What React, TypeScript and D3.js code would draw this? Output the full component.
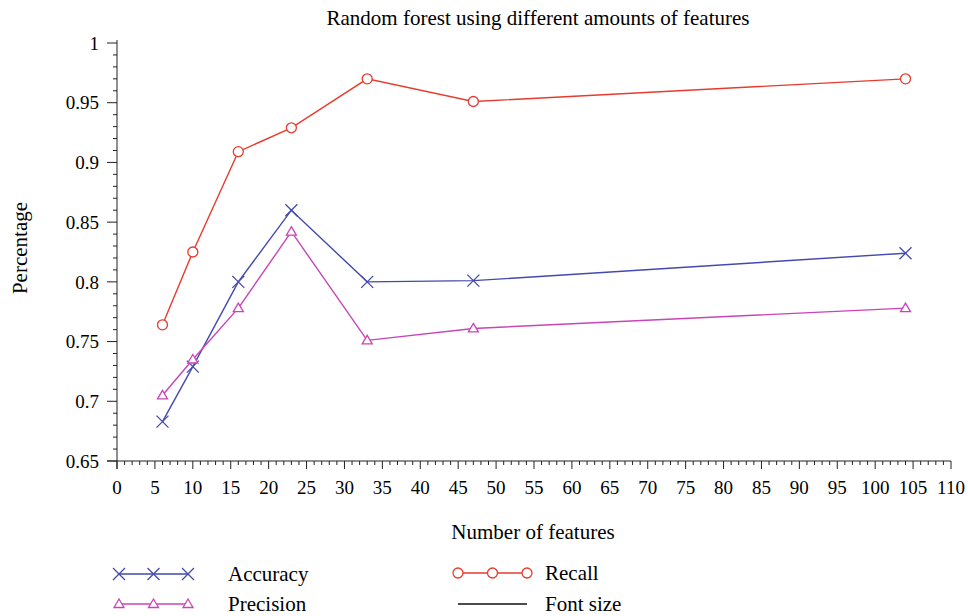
import { useEffect, useRef } from 'react';
import * as d3 from 'd3';

// Feature counts on the x axis
const features = [6, 10, 16, 23, 33, 47, 104];
// Series values
const accuracy = [0.683, 0.729, 0.8, 0.86, 0.8, 0.801, 0.824];
const precision = [0.705, 0.735, 0.778, 0.842, 0.751, 0.761, 0.778];
const recall = [0.764, 0.825, 0.909, 0.929, 0.97, 0.951, 0.97];

const xTicks = d3.range(0, 111, 5);
const yTicks = [0.65, 0.7, 0.75, 0.8, 0.85, 0.9, 0.95, 1];

const FONT = '"Liberation Serif", "Times New Roman", serif';
const BLUE = '#4349ad';
const MAGENTA = '#c944b8';
const RED = '#e63b2e';

export default function App() {
  const svgRef = useRef<SVGSVGElement | null>(null);

  useEffect(() => {
    if (!svgRef.current) return;
    const svg = d3.select(svgRef.current);
    svg.selectAll('*').remove();

    const width = 968;
    const height = 616;
    const margin = { top: 43, right: 17, bottom: 155, left: 117 };

    svg.attr('width', width).attr('height', height);

    const x = d3.scaleLinear().domain([0, 110]).range([margin.left, width - margin.right]);
    const y = d3.scaleLinear().domain([0.65, 1]).range([height - margin.bottom, margin.top]);

    const axisColor = '#222';

    // Title
    svg.append('text')
      .attr('x', 538)
      .attr('y', 25)
      .attr('text-anchor', 'middle')
      .style('font-family', FONT)
      .style('font-size', '21px')
      .text('Random forest using different amounts of features');

    // X axis: minor ticks every 1, major every 5
    const xAxisY = y(0.65);
    const gx = svg.append('g');
    gx.append('line')
      .attr('x1', margin.left - 10).attr('x2', x(110))
      .attr('y1', xAxisY).attr('y2', xAxisY)
      .attr('stroke', axisColor).attr('stroke-width', 1);
    gx.selectAll('.minor')
      .data(d3.range(0, 111, 1))
      .enter()
      .append('line')
      .attr('x1', d => x(d)).attr('x2', d => x(d))
      .attr('y1', xAxisY).attr('y2', d => xAxisY + (d % 5 === 0 ? 8 : 4))
      .attr('stroke', axisColor).attr('stroke-width', 1);
    gx.selectAll('.lbl')
      .data(xTicks)
      .enter()
      .append('text')
      .attr('x', d => x(d))
      .attr('y', xAxisY + 33)
      .attr('text-anchor', 'middle')
      .style('font-family', FONT)
      .style('font-size', '19px')
      .text(d => String(d));

    // Y axis: minor ticks every 0.01, major every 0.05
    const yAxisX = x(0);
    const gy = svg.append('g');
    gy.append('line')
      .attr('x1', yAxisX).attr('x2', yAxisX)
      .attr('y1', y(1) - 3).attr('y2', xAxisY + 8)
      .attr('stroke', axisColor).attr('stroke-width', 1);
    gy.selectAll('.minor')
      .data(d3.range(65, 101, 1))
      .enter()
      .append('line')
      .attr('x1', d => yAxisX - (d % 5 === 0 ? 10 : 4)).attr('x2', yAxisX)
      .attr('y1', d => y(d / 100)).attr('y2', d => y(d / 100))
      .attr('stroke', axisColor).attr('stroke-width', 1);
    gy.selectAll('.lbl')
      .data(yTicks)
      .enter()
      .append('text')
      .attr('x', yAxisX - 18)
      .attr('y', d => y(d))
      .attr('dy', '0.35em')
      .attr('text-anchor', 'end')
      .style('font-family', FONT)
      .style('font-size', '19px')
      .text(d => String(d));

    // Axis titles
    svg.append('text')
      .attr('x', 533)
      .attr('y', 539)
      .attr('text-anchor', 'middle')
      .style('font-family', FONT)
      .style('font-size', '21px')
      .text('Number of features');
    svg.append('text')
      .attr('transform', `translate(27,248) rotate(-90)`)
      .attr('text-anchor', 'middle')
      .style('font-family', FONT)
      .style('font-size', '21px')
      .text('Percentage');

    const line = d3.line<[number, number]>()
      .x(d => x(d[0]))
      .y(d => y(d[1]));

    const xMark = (g: any, cx: number, cy: number, color: string) => {
      const s = 6;
      g.append('path')
        .attr('d', `M${cx - s},${cy - s}L${cx + s},${cy + s}M${cx - s},${cy + s}L${cx + s},${cy - s}`)
        .attr('stroke', color).attr('stroke-width', 1.3).attr('fill', 'none');
    };
    const circleMark = (g: any, cx: number, cy: number, color: string) => {
      g.append('circle')
        .attr('cx', cx).attr('cy', cy).attr('r', 5)
        .attr('stroke', color).attr('stroke-width', 1.3).attr('fill', '#fff');
    };
    const triMark = (g: any, cx: number, cy: number, color: string) => {
      const s = 5;
      g.append('path')
        .attr('d', `M${cx},${cy - s}L${cx + s},${cy + s * 0.7}L${cx - s},${cy + s * 0.7}Z`)
        .attr('stroke', color).attr('stroke-width', 1.3).attr('fill', '#fff');
    };

    const series = [
      { values: recall, color: RED, mark: circleMark },
      { values: accuracy, color: BLUE, mark: xMark },
      { values: precision, color: MAGENTA, mark: triMark },
    ];

    series.forEach(s => {
      const pts = features.map((f, i) => [f, s.values[i]] as [number, number]);
      const g = svg.append('g');
      g.append('path')
        .attr('d', line(pts))
        .attr('fill', 'none')
        .attr('stroke', s.color)
        .attr('stroke-width', 1.4);
      pts.forEach(p => s.mark(g, x(p[0]), y(p[1]), s.color));
    });

    // Legend
    const legend = [
      { label: 'Accuracy', color: BLUE, mark: xMark, lx: 119, ly: 574, tx: 228 },
      { label: 'Precision', color: MAGENTA, mark: triMark, lx: 119, ly: 604, tx: 228 },
      { label: 'Recall', color: RED, mark: circleMark, lx: 458, ly: 573, tx: 545 },
      { label: 'Font size', color: '#111', mark: null as any, lx: 458, ly: 604, tx: 545 },
    ];
    legend.forEach(l => {
      const g = svg.append('g');
      g.append('line')
        .attr('x1', l.lx).attr('x2', l.lx + 69)
        .attr('y1', l.ly).attr('y2', l.ly)
        .attr('stroke', l.color).attr('stroke-width', 1.4);
      if (l.mark) {
        [0, 34.5, 69].forEach(dx => l.mark(g, l.lx + dx, l.ly, l.color));
      }
      g.append('text')
        .attr('x', l.tx)
        .attr('y', l.ly)
        .attr('dy', '0.35em')
        .style('font-family', FONT)
        .style('font-size', '21px')
        .text(l.label);
    });
  }, []);

  return (
    <div style={{ position: 'absolute', left: 0, top: 0 }}>
      <svg ref={svgRef} style={{ display: 'block', background: '#fff' }}></svg>
    </div>
  );
}
